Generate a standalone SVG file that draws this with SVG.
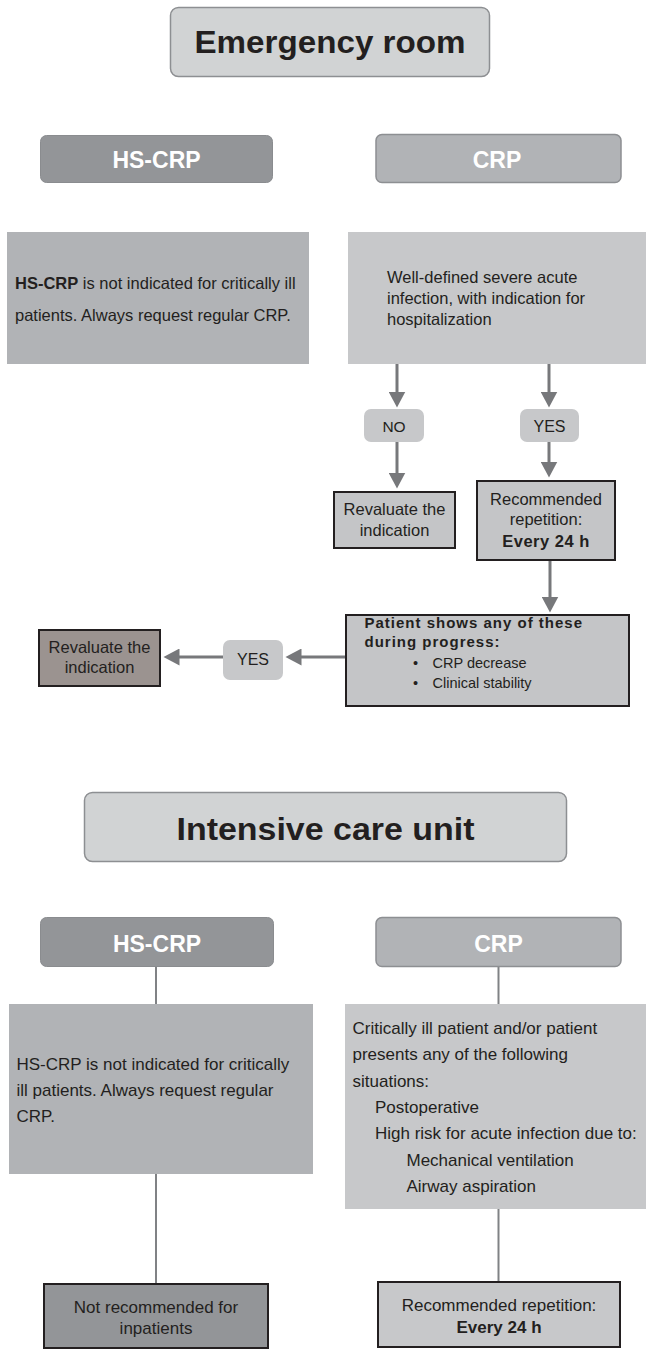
<svg xmlns="http://www.w3.org/2000/svg" width="646" height="1351" viewBox="0 0 646 1351">
<style>
text{font-family:"Liberation Sans",Arial,sans-serif;fill:#231f20}
.title{font-size:31px;font-weight:bold;text-anchor:middle}
.hdr{font-size:23px;font-weight:bold;fill:#ffffff;text-anchor:middle}
.t16{font-size:16.5px}
.t17{font-size:17px}
.mid{text-anchor:middle}
.b{font-weight:bold}
.titlebox{fill:#d1d3d4;stroke:#8d8f92;stroke-width:1.5}
.hsh{fill:#939598;stroke:#8a8c8f;stroke-width:1}
.crph{fill:#b1b3b6;stroke:#8d8f92;stroke-width:1.5}
.hsbox{fill:#b1b3b6}
.crpbox{fill:#c7c8ca}
.pill{fill:#c7c8ca}
.dbox{fill:#c4c5c7;stroke:#231f20;stroke-width:2}
.arrow{stroke:#77787b;stroke-width:3;fill:none;marker-end:url(#ah)}
.thin{stroke:#808285;stroke-width:2;fill:none}
</style>
<defs>
<marker id="ah" markerUnits="userSpaceOnUse" markerWidth="17" markerHeight="17" refX="0.5" refY="8.5" orient="auto">
<path d="M0,0 L16,8.5 L0,17 Z" fill="#77787b"/>
</marker>
</defs>

<g id="connectors">
<line class="arrow" x1="397" y1="364" x2="397" y2="392"/>
<line class="arrow" x1="549" y1="364" x2="549" y2="392"/>
<line class="arrow" x1="397" y1="442" x2="397" y2="473"/>
<line class="arrow" x1="549" y1="442" x2="549" y2="462"/>
<line class="arrow" x1="550" y1="561" x2="550" y2="597"/>
<line class="arrow" x1="345" y1="657" x2="301" y2="657"/>
<line class="arrow" x1="223" y1="657" x2="179" y2="657"/>
<line class="thin" x1="156" y1="967" x2="156" y2="1004"/>
<line class="thin" x1="156" y1="1174" x2="156" y2="1283"/>
<line class="thin" x1="498.5" y1="967" x2="498.5" y2="1004"/>
<line class="thin" x1="498.5" y1="1209" x2="498.5" y2="1281"/>
</g>

<g id="er-title">
<rect class="titlebox" x="170.5" y="7.5" width="319" height="69" rx="8"/>
<text class="title" x="330" y="53" textLength="271" lengthAdjust="spacingAndGlyphs">Emergency room</text>
</g>

<g id="er-hscrp-header">
<rect class="hsh" x="40.5" y="135.5" width="232" height="47" rx="6"/>
<text class="hdr" x="156.5" y="168">HS-CRP</text>
</g>

<g id="er-crp-header">
<rect class="crph" x="376" y="134.5" width="245" height="48" rx="6"/>
<text class="hdr" x="497" y="168">CRP</text>
</g>

<g id="er-hscrp-text">
<rect class="hsbox" x="7" y="232" width="302" height="132"/>
<text class="t16" x="15" y="289"><tspan class="b">HS-CRP</tspan> is not indicated for critically ill</text>
<text class="t16" x="15" y="321">patients. Always request regular CRP.</text>
</g>

<g id="er-crp-text">
<rect class="crpbox" x="348" y="232" width="298" height="132"/>
<text class="t16" x="387" y="283">Well-defined severe acute</text>
<text class="t16" x="387" y="304">infection, with indication for</text>
<text class="t16" x="387" y="325">hospitalization</text>
</g>

<g id="er-no">
<rect class="pill" x="364" y="409" width="60" height="33" rx="7"/>
<text class="mid" x="394" y="432" style="font-size:15.5px">NO</text>
</g>

<g id="er-yes">
<rect class="pill" x="520" y="409" width="59" height="33" rx="7"/>
<text class="mid" x="549.5" y="432" style="font-size:16px">YES</text>
</g>

<g id="er-revaluate">
<rect class="dbox" x="334" y="492" width="121" height="56"/>
<text class="t16 mid" x="394.5" y="515">Revaluate the</text>
<text class="t16 mid" x="394.5" y="536">indication</text>
</g>

<g id="er-recommended">
<rect class="dbox" x="477" y="481" width="138" height="79"/>
<text class="t16 mid" x="546" y="505">Recommended</text>
<text class="t16 mid" x="546" y="525">repetition:</text>
<text class="t16 mid b" x="546" y="547" style="letter-spacing:0.5px">Every 24 h</text>
</g>

<g id="er-patient">
<rect class="dbox" x="346" y="615" width="283" height="91"/>
<text x="364.5" y="628" style="font-size:15px;font-weight:bold;letter-spacing:1px">Patient shows any of these</text>
<text x="364.5" y="647" style="font-size:15px;font-weight:bold;letter-spacing:1px">during progress:</text>
<text x="413" y="668" style="font-size:14.5px">•</text>
<text x="432.5" y="668" style="font-size:14.5px">CRP decrease</text>
<text x="413" y="688" style="font-size:14.5px">•</text>
<text x="432.5" y="688" style="font-size:14.5px">Clinical stability</text>
</g>

<g id="er-yes2">
<rect class="pill" x="223" y="640" width="60" height="40" rx="7"/>
<text class="mid" x="253" y="665" style="font-size:16px">YES</text>
</g>

<g id="er-revaluate2">
<rect x="39" y="630" width="121" height="56" style="fill:#9b9390;stroke:#231f20;stroke-width:2"/>
<text class="t16 mid" x="99.5" y="653">Revaluate the</text>
<text class="t16 mid" x="99.5" y="673">indication</text>
</g>

<g id="icu-title">
<rect class="titlebox" x="84.5" y="792.5" width="482" height="69" rx="8"/>
<text class="title" x="325.5" y="840" textLength="298" lengthAdjust="spacingAndGlyphs">Intensive care unit</text>
</g>

<g id="icu-hscrp-header">
<rect class="hsh" x="40.5" y="917.5" width="233" height="49" rx="6"/>
<text class="hdr" x="157" y="952">HS-CRP</text>
</g>

<g id="icu-crp-header">
<rect class="crph" x="376" y="917.5" width="245" height="49" rx="6"/>
<text class="hdr" x="498.5" y="952">CRP</text>
</g>

<g id="icu-hscrp-text">
<rect class="hsbox" x="9" y="1004" width="304" height="170"/>
<text class="t17" x="16.5" y="1070">HS-CRP is not indicated for critically</text>
<text class="t17" x="16.5" y="1096">ill patients. Always request regular</text>
<text class="t17" x="16.5" y="1122">CRP.</text>
</g>

<g id="icu-crp-text">
<rect class="crpbox" x="345" y="1004" width="301" height="205"/>
<text class="t17" x="352.5" y="1034">Critically ill patient and/or patient</text>
<text class="t17" x="352.5" y="1060">presents any of the following</text>
<text class="t17" x="352.5" y="1087">situations:</text>
<text class="t17" x="375" y="1113">Postoperative</text>
<text class="t17" x="375" y="1139">High risk for acute infection due to:</text>
<text class="t17" x="406.5" y="1166">Mechanical ventilation</text>
<text class="t17" x="406.5" y="1192">Airway aspiration</text>
</g>

<g id="icu-not-recommended">
<rect x="44" y="1284" width="224" height="64" style="fill:#939598;stroke:#231f20;stroke-width:2"/>
<text class="t17 mid" x="156" y="1313">Not recommended for</text>
<text class="t17 mid" x="156" y="1334">inpatients</text>
</g>

<g id="icu-recommended">
<rect class="dbox" x="378" y="1282" width="242" height="65" style="fill:#c7c8ca"/>
<text class="t17 mid" x="499" y="1311">Recommended repetition:</text>
<text class="t17 mid b" x="499" y="1333">Every 24 h</text>
</g>
</svg>
